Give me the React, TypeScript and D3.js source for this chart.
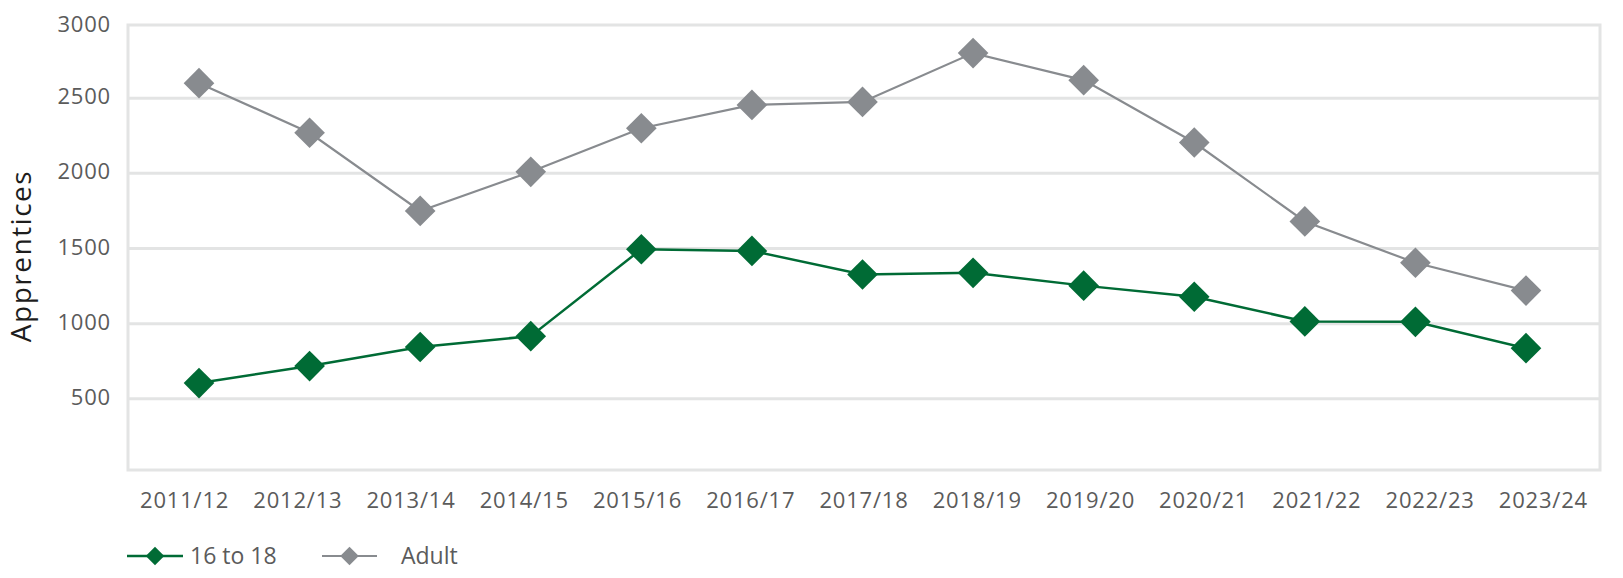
import React from "react";
import * as d3 from "d3";

const years = [
  "2011/12", "2012/13", "2013/14", "2014/15", "2015/16", "2016/17", "2017/18",
  "2018/19", "2019/20", "2020/21", "2021/22", "2022/23", "2023/24",
];
const youth = [605, 718, 845, 917, 1495, 1484, 1327, 1338, 1253, 1179, 1015, 1012, 837];
const adult = [2600, 2270, 1750, 2010, 2300, 2455, 2475, 2800, 2620, 2205, 1680, 1405, 1220];
const yTicks = [500, 1000, 1500, 2000, 2500, 3000];
const seriesNames = ["16 to 18", "Adult"];

const W = 1623;
const H = 578;
const plot = { left: 128, right: 1600, top: 25, bottom: 470 };
const GREEN = "#006b35";
const GREY = "#888b8f";
const GRID = "#e3e4e4";
const TEXT = "#5b5b5b";
const FONT = "'Open Sans', 'Noto Sans', sans-serif";

export default function App() {
  // category axis for labels
  const x = d3.scaleBand<string>().domain(years).range([plot.left, plot.right]);
  const cx = (d: string) => (x(d) as number) + x.bandwidth() / 2;
  // marks sit on a slightly narrower point scale, as in the original
  const xp = d3.scalePoint<string>().domain(years).range([199, 1526]);
  const y = d3.scaleLinear().domain([0, 3000]).range([474, 23]);

  const line = d3
    .line<number>()
    .x((_, i) => xp(years[i]) as number)
    .y((v) => y(v));

  const diamond = d3.symbol().type(d3.symbolSquare).size(470)();
  const smallDiamond = d3.symbol().type(d3.symbolSquare).size(170)();

  const series = [
    { name: seriesNames[0], values: youth, color: GREEN, width: 2.5 },
    { name: seriesNames[1], values: adult, color: GREY, width: 2.2 },
  ];

  const legendItems = [
    { x1: 127, x2: 183, tx: 190, color: GREEN, width: 2.5 },
    { x1: 322, x2: 377, tx: 401, color: GREY, width: 2.2 },
  ];

  return (
    <svg
      width={W}
      height={H}
      style={{ position: "absolute", left: 0, top: 0, background: "#fff" }}
    >
      {yTicks
        .filter((t) => t < 3000)
        .map((t) => (
          <line
            key={t}
            x1={plot.left}
            x2={plot.right}
            y1={y(t)}
            y2={y(t)}
            stroke={GRID}
            strokeWidth={3}
          />
        ))}
      <rect
        x={plot.left}
        y={plot.top}
        width={plot.right - plot.left}
        height={plot.bottom - plot.top}
        fill="none"
        stroke={GRID}
        strokeWidth={3}
      />
      {yTicks.map((t) => (
        <text
          key={t}
          x={111}
          y={t === 3000 ? 23 : y(t) - 3}
          textAnchor="end"
          dominantBaseline="central"
          fontFamily={FONT}
          fontSize={22}
          letterSpacing={0.8}
          fill={TEXT}
        >
          {t}
        </text>
      ))}
      <text
        transform={`translate(31, 256) rotate(-90)`}
        textAnchor="middle"
        fontFamily={FONT}
        fontSize={28}
        letterSpacing={1.5}
        fill="#1d1d1d"
      >
        Apprentices
      </text>
      {years.map((yr) => (
        <text
          key={yr}
          x={cx(yr)}
          y={508}
          textAnchor="middle"
          fontFamily={FONT}
          fontSize={22}
          letterSpacing={0.8}
          fill={TEXT}
        >
          {yr}
        </text>
      ))}
      {[...series].reverse().map((s) => (
        <g key={s.name}>
          <path d={line(s.values) || ""} fill="none" stroke={s.color} strokeWidth={s.width} />
          {s.values.map((v, i) => (
            <path
              key={i}
              d={diamond || ""}
              transform={`translate(${xp(years[i])},${y(v)}) rotate(45)`}
              fill={s.color}
            />
          ))}
        </g>
      ))}
      {series.map((s, i) => {
        const l = legendItems[i];
        return (
          <g key={s.name}>
            <line x1={l.x1} x2={l.x2} y1={556} y2={556} stroke={l.color} strokeWidth={l.width} />
            <path
              d={smallDiamond || ""}
              transform={`translate(${(l.x1 + l.x2) / 2},556) rotate(45)`}
              fill={l.color}
            />
            <text x={l.tx} y={564} fontFamily={FONT} fontSize={23} fill={TEXT}>
              {s.name}
            </text>
          </g>
        );
      })}
    </svg>
  );
}
